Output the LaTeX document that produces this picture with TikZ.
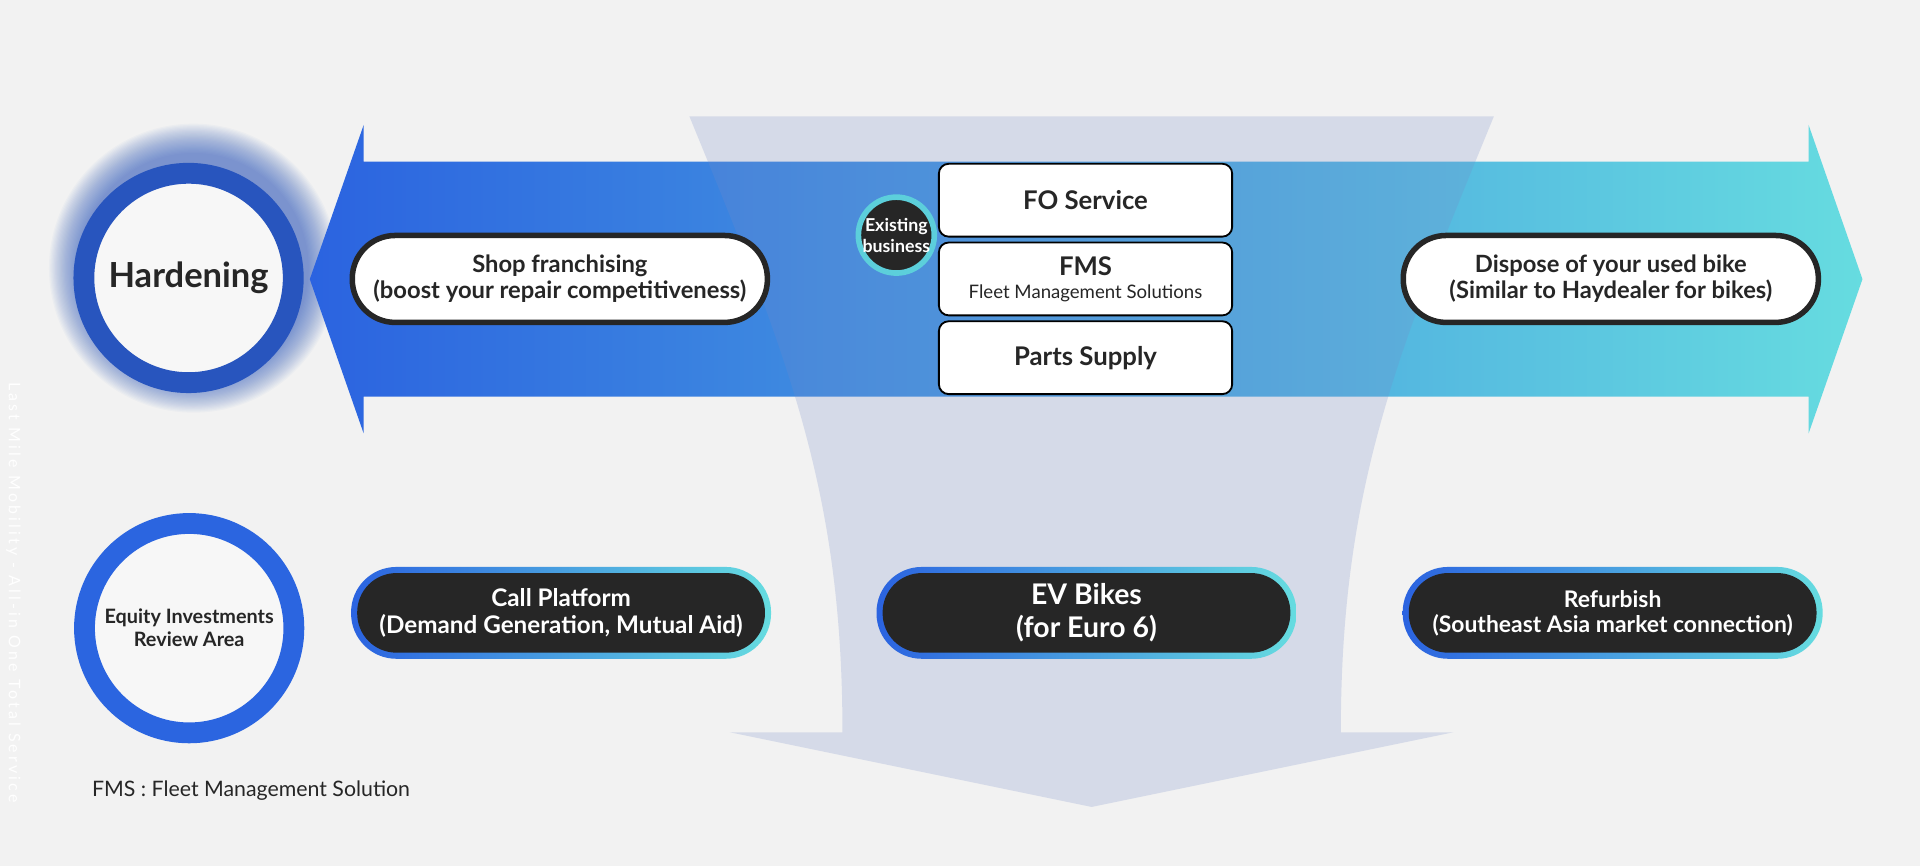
\documentclass[tikz,border=0pt]{standalone}
\usepackage{fontspec}
\setmainfont{Lato}
\usetikzlibrary{positioning}

\definecolor{bggray}{HTML}{F2F2F2}
\definecolor{bandblue}{HTML}{2B63E0}
\definecolor{bandcyan}{HTML}{66DCE0}
\definecolor{funnelblue}{HTML}{758BC9}
\definecolor{ringdark}{HTML}{2855BE}
\definecolor{ringblue}{HTML}{2B65E0}
\definecolor{ringfill}{HTML}{F7F7F7}
\definecolor{inkdark}{HTML}{262626}
\definecolor{existcyan}{HTML}{5CCFDB}

\def\funnelshape{(563,95) -- (1220,95) .. controls (1140,290) and (1095,400) .. (1095,598) -- (1187,598) -- (891.5,659) -- (596,598) -- (688,598) .. controls (688,400) and (643,290) .. (563,95) -- cycle}
\def\bandshape{(253,228) -- (297,102) -- (297,132) -- (1477,132) -- (1477,102) -- (1521,228) -- (1477,354) -- (1477,324) -- (297,324) -- (297,354) -- cycle}

\tikzset{
  ring/.style={circle, line width=17pt, minimum size=171pt, inner sep=0pt, fill=ringfill, align=center, text=inkdark},
  whitepill/.style={draw=inkdark, line width=4.5pt, fill=white, minimum width=339pt, minimum height=71pt, rounded corners=35pt, align=center, inner sep=0pt, text=inkdark, font=\bfseries\fontsize{19.4}{21.5}\selectfont},
  rim/.style={left color=bandblue, right color=bandcyan, minimum width=343pt, minimum height=75pt, rounded corners=37pt, inner sep=0pt},
  darkpill/.style={fill=inkdark, text=white, minimum width=333pt, minimum height=65pt, rounded corners=32pt, align=center, inner sep=0pt},
  svcbox/.style={draw=black, line width=1.5pt, fill=white, rounded corners=8pt, minimum width=239.5pt, minimum height=59.5pt, align=center, inner sep=0pt, text=inkdark, font=\bfseries\fontsize{21}{24}\selectfont},
}

\begin{document}
\begin{tikzpicture}[x=1pt, y=-1pt]
  \fill[bggray] (0,0) rectangle (1568,707);
  \useasboundingbox (0,0) rectangle (1568,707);

  \foreach \r in {0,...,24}
    \fill[ringdark, fill opacity=0.03] (158,219) circle [radius={94pt+1pt*\r}];

  \shade[left color=bandblue, right color=bandcyan] \bandshape;
  \fill[funnelblue, fill opacity=0.23] \funnelshape;

  \node[ring, draw=ringdark, font=\bfseries\fontsize{28.2}{32}\selectfont] (hard) at (154,227) {Hardening};
  \node[ring, draw=ringblue, font=\bfseries\fontsize{16.2}{18.7}\selectfont] (equity) at (154.5,513) {Equity Investments\\Review Area};

  \node[whitepill] (shop) at (457.2,227.8) {Shop franchising\\(boost your repair competitiveness)};
  \node[whitepill] (dispose) at (1315.5,227.8) {Dispose of your used bike\\(Similar to Haydealer for bikes)};

  \node[svcbox] (fo) at (886.5,163.5) {FO Service};
  \node[svcbox, below=3.3pt of fo] (fms) {FMS\\[-5pt]{\mdseries\fontsize{15.2}{18}\selectfont Fleet Management Solutions}};
  \node[svcbox, below=3.3pt of fms] (parts) {Parts Supply};
  \node[circle, draw=existcyan, line width=4.6pt, fill=inkdark, minimum size=62pt, inner sep=0pt, text=white, align=center, font=\bfseries\fontsize{14.5}{17}\selectfont] (exist) at (732,192) {Existing\\business};

  \node[rim] (callrim) at (458.2,500.5) {};
  \node[darkpill, font=\bfseries\fontsize{19.8}{21.6}\selectfont] (call) at (callrim) {Call Platform\\(Demand Generation, Mutual Aid)};
  \node[rim] (evrim) at (887.3,500.5) {};
  \node[darkpill, font=\bfseries\fontsize{23.2}{27}\selectfont] (ev) at (evrim) {EV Bikes\\(for Euro 6)};
  \node[rim] (refrim) at (1317,500.5) {};
  \node[darkpill, font=\bfseries\fontsize{18.7}{20.4}\selectfont] (refurb) at (refrim) {Refurbish\\(Southeast Asia market connection)};

  \node[anchor=west, inner sep=0pt, text=inkdark, font=\fontsize{17.4}{20}\selectfont] (note) at (75,646) {FMS : Fleet Management Solution};
  \node[rotate=-90, inner sep=0pt, text=white, font=\fontsize{13}{16}\selectfont\addfontfeatures{LetterSpace=20}] (wmark) at (11,484) {Last Mile Mobility - All-in One Total Service};
\end{tikzpicture}
\end{document}
